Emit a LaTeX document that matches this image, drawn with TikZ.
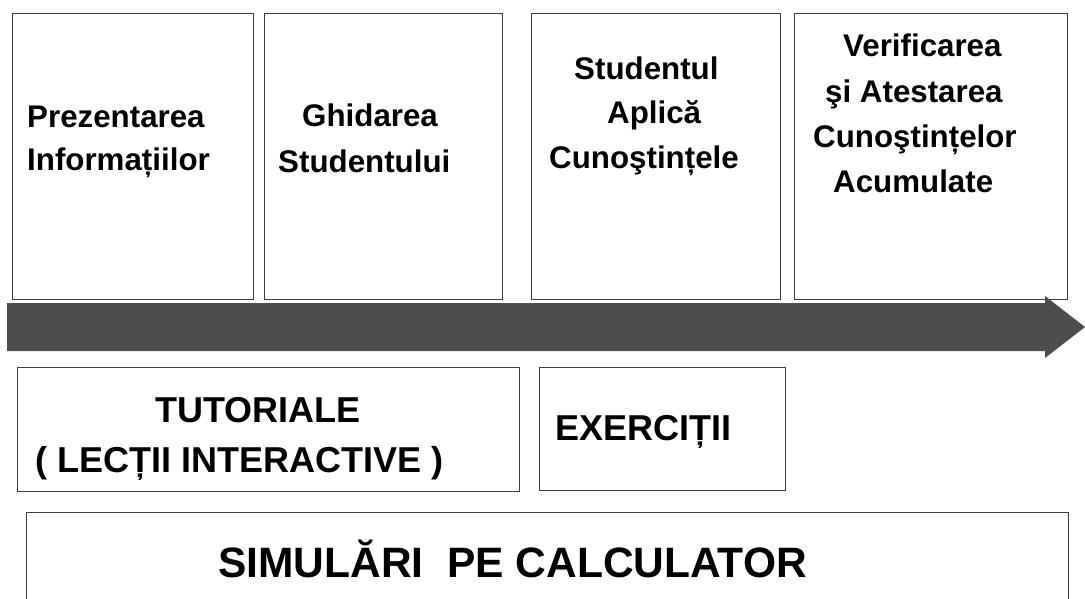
\documentclass[tikz,border=0pt]{standalone}
\usepackage{fontspec}
\setmainfont{Liberation Sans}
\usetikzlibrary{positioning}

\definecolor{arrowgray}{RGB}{77,77,77}
\definecolor{edgegray}{RGB}{60,60,60}

\tikzset{
    box/.style={draw=edgegray,line width=1pt},
    lbl/.style={anchor=base west,inner sep=0pt,font=\bfseries\fontsize{31.3}{40}\selectfont},
    biglbl/.style={anchor=base west,inner sep=0pt,font=\bfseries\fontsize{36}{44}\selectfont},
    hugelbl/.style={anchor=base west,inner sep=0pt,font=\bfseries\fontsize{42.5}{50}\selectfont}
}

\begin{document}
\begin{tikzpicture}[x=1pt,y=-1pt]
            \useasboundingbox (0,0) rectangle (1085,598);
            % the four stages
            \draw[box] (12,13) rectangle (253,299);
            \draw[box] (264,13) rectangle (502,299);
            \draw[box] (531,13) rectangle (780,299);
            \draw[box] (794,13) rectangle (1067,299);
            % big arrow
            \fill[arrowgray] (7,303) -- (1045,303) -- (1045,296)
                -- (1085,327) -- (1045,358) -- (1045,351) -- (7,351) -- cycle;
            % lower boxes
            \draw[box] (17,367) rectangle (519,491);
            \draw[box] (539,367) rectangle (785,490);
            \draw[box] (26,512) -- (1068,512) -- (1068,610);
            \draw[box] (26,512) -- (26,610);

            \node[lbl] (prez) at (27,127) {Prezentarea};
            \node[lbl] (info) at (27,170) {Informațiilor};

            \node[lbl] (ghid) at (302,126) {Ghidarea};
            \node[lbl] (stud) at (278,172) {Studentului};

            \node[lbl] (studa) at (574,79) {Studentul};
            \node[lbl] (apl) at (607,123) {Aplică};
            \node[lbl] (cuna) at (549,168) {Cunoştințele};

            \node[lbl] (verif) at (843,56) {Verificarea};
            \node[lbl] (atest) at (825,102) {şi Atestarea};
            \node[lbl] (cunb) at (813,147) {Cunoştințelor};
            \node[lbl] (acum) at (833,192) {Acumulate};

            \node[biglbl] (tut) at (155,422) {TUTORIALE};
            \node[biglbl] (lect) at (35,472) {( LECȚII INTERACTIVE )};
            \node[biglbl] (exer) at (555,440) {EXERCIȚII};

            \node[hugelbl] (sim) at (218,577) {SIMULĂRI\ \ PE CALCULATOR};
        \end{tikzpicture}
\end{document}
